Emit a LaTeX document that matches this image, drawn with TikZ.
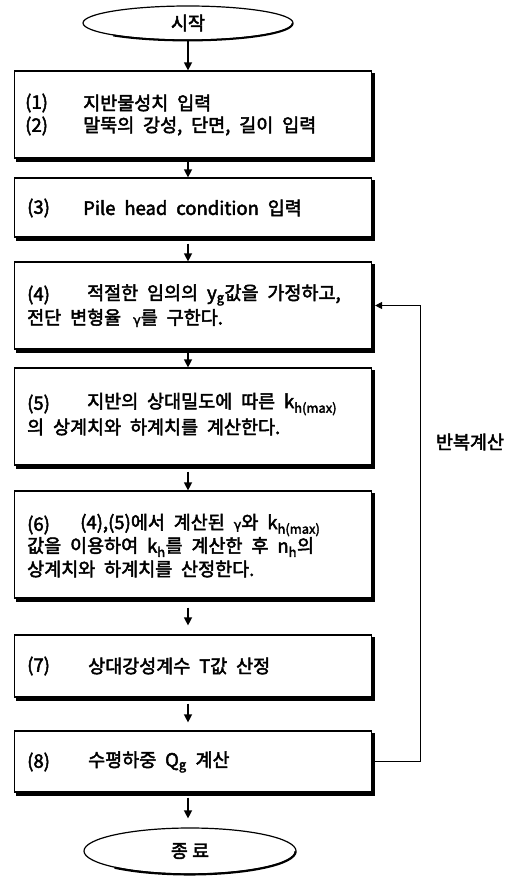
\documentclass[tikz,border=0pt]{standalone}
\usepackage{fontspec}
\setmainfont{Noto Sans CJK KR}[FakeBold=2.5]
\newfontfamily\gk{DejaVu Sans}[FakeBold=2]
\usetikzlibrary{arrows.meta,calc,shapes.geometric}
\newcommand{\widesp}{\spaceskip=0.48em plus 0.1em\relax}
\tikzset{
  box/.style={draw, line width=1.2pt, fill=white, minimum width=357pt},
  term/.style={ellipse, draw, line width=1.2pt, fill=white,
    font=\fontsize{18.5}{20}\selectfont},
  shad/.style={line width=3pt, line cap=rect},
  txt/.style={anchor=west, inner sep=0pt,
    font=\fontsize{18.5}{20}\selectfont, execute at begin node=\widesp},
  arr/.style={line width=1.3pt, -{Triangle[width=8pt,length=8pt]}},
  loop/.style={line width=1pt, -{Triangle[width=7pt,length=7pt]}}
}
\newcommand{\gm}{{\gk\fontsize{13}{14}\selectfont γ}}
\begin{document}
\begin{tikzpicture}[x=1pt,y=-1pt]
\useasboundingbox (0,0) rectangle (514,878);
% terminals
\node[term, minimum width=210pt, minimum height=34pt] (st) at (188,23) {시작};
\node[term, minimum width=212pt, minimum height=46pt] (en) at (190,851) {종 료};
% boxes
\node[box, minimum height=87pt]  (b1) at (193,114.5) {};
\node[box, minimum height=59pt]  (b2) at (193,207.5) {};
\node[box, minimum height=87pt]  (b3) at (193,305.5) {};
\node[box, minimum height=97pt]  (b4) at (193,416.5) {};
\node[box, minimum height=107pt] (b5) at (193,544.5) {};
\node[box, minimum height=62pt]  (b6) at (193,666) {};
\node[box, minimum height=61pt]  (b7) at (193,761.5) {};
% shadows (thick right and bottom edges)
\foreach \bx in {b1,b2,b3,b4,b5,b6,b7}
  \draw[shad] ($(\bx.south west)+(4,1.5)$) -- ($(\bx.south east)+(1.5,1.5)$) -- ($(\bx.north east)+(1.5,4)$);
\draw[line width=2pt] (st.south west) arc[start angle=225, end angle=360, x radius=105pt, y radius=17pt];
\draw[line width=2.2pt] (en.south west) arc[start angle=225, end angle=360, x radius=106pt, y radius=23pt];
% texts
\node[txt] (t1a) at (25,103) {(1)};
\node[txt] (t1b) at (83,103) {지반물성치 입력};
\node[txt] (t2a) at (25,126) {(2)};
\node[txt] (t2b) at (83,126) {말뚝의 강성, 단면, 길이 입력};
\node[txt] (t3a) at (27,208) {(3)};
\node[txt] (t3b) at (83,208) {Pile head condition 입력};
\node[txt] (t4a) at (27,295) {(4)};
\node[txt] (t4b) at (87,295) {적절한 임의의 y\textsubscript{g}값을 가정하고,};
\node[txt] (t4c) at (27,318) {전단 변형율 \,\gm 를 구한다.};
\node[txt] (t5a) at (27,404) {(5)};
\node[txt] (t5b) at (87,404) {지반의 상대밀도에 따른 k\textsubscript{h(max)}};
\node[txt] (t5c) at (27,427) {의 상계치와 하계치를 계산한다.};
\node[txt] (t6a) at (27,525) {(6)};
\node[txt] (t6b) at (80,525) {(4),(5)에서 계산된 \gm 와 k\textsubscript{h(max)}};
\node[txt] (t6c) at (27,547) {값을 이용하여 k\textsubscript{h}를 계산한 후 n\textsubscript{h}의};
\node[txt] (t6d) at (27,569) {상계치와 하계치를 산정한다.};
\node[txt] (t7a) at (27,666) {(7)};
\node[txt] (t7b) at (88,666) {상대강성계수 T값 산정};
\node[txt] (t8a) at (27,762) {(8)};
\node[txt] (t8b) at (88,762) {수평하중 Q\textsubscript{g} 계산};
\node[txt, anchor=center] (lbl) at (470,442) {반복계산};
% arrows
\draw[arr] (st.south) -- (b1.north -| st.south);
\draw[arr] ([yshift=-3pt]b1.south -| st.south) -- (b2.north -| st.south);
\draw[arr, shorten <=6pt] (b2.south -| st.south) -- (b3.north -| st.south);
\draw[arr, shorten <=3pt] (b3.south -| st.south) -- (b4.north -| st.south);
\draw[arr, shorten <=6pt] (b4.south -| st.south) -- (b5.north -| st.south);
\draw[arr, shorten <=9pt, shorten >=9pt] (b5.south -| st.south) -- (b6.north -| st.south);
\draw[arr, shorten <=6pt, shorten >=8pt] (b6.south -| st.south) -- (b7.north -| st.south);
\draw[arr, shorten <=5pt, shorten >=9pt] (b7.south -| st.south) -- (en.north -| st.south);
% loop
\coordinate (lx) at (420,0);
\draw[loop] ([xshift=3pt]b7.east) -| (lx |- b3.east) -- ([xshift=3pt]b3.east);
\end{tikzpicture}
\end{document}
